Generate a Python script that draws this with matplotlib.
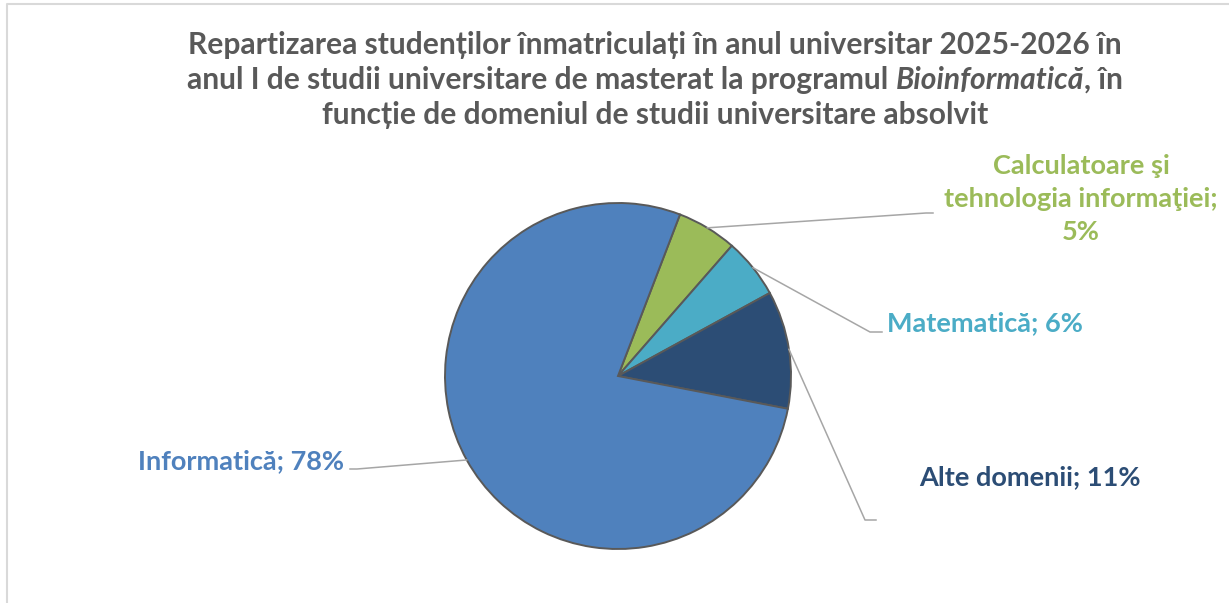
import numpy as np
import matplotlib
matplotlib.use("Agg")
import matplotlib.pyplot as plt

plt.rcParams['font.family'] = ['Lato', 'DejaVu Sans']

# slices in clockwise order, starting with the green one at the top
categories = ["Calculatoare şi\ntehnologia informaţiei", "Matematică", "Alte domenii", "Informatică"]
shares = [5.6, 5.6, 11.0, 77.8]
pct_labels = ["5%", "6%", "11%", "78%"]
label_sep = ["\n", " ", " ", " "]
colors = ["#9BBB59", "#4BACC6", "#2C4D75", "#4F81BD"]

title_line1 = "Repartizarea studenților înmatriculați în anul universitar 2025-2026 în"
title_line2 = ["anul I de studii universitare de masterat la programul", "Bioinformatică", ", în"]
title_line3 = "funcție de domeniul de studii universitare absolvit"

# layout (figure pixels, y from top)
W, H = 1229, 603
cx, cy, R = 618, 376, 173
label_xy = [(1081, 199), (985, 323), (1030, 477), (241, 461)]
elbow_xy = [(926, 213), (870, 332), (865, 520), (357, 469)]
end_xy = [(933, 213), (882, 332), (876, 520), (350, 469)]

fig = plt.figure(figsize=(W / 100, H / 100), dpi=100)
fig.patch.set_facecolor("white")

ax = fig.add_axes([(cx - R) / W, (H - cy - R) / H, 2 * R / W, 2 * R / H])
wedges, _ = ax.pie(shares, colors=colors, startangle=69, counterclock=False, radius=1,
                   wedgeprops=dict(edgecolor="#595959", linewidth=1.4))
ax.set_xlim(-1, 1)
ax.set_ylim(-1, 1)
ax.axis("off")

# overlay in pixel coordinates for title, labels, leader lines and the frame
ov = fig.add_axes([0, 0, 1, 1])
ov.set_xlim(0, W)
ov.set_ylim(H, 0)
ov.axis("off")
ov.patch.set_visible(False)

ov.plot([7, 7, W + 5], [H + 5, 4, 4], color="#D9D9D9", lw=1.5, clip_on=False)

r = fig.canvas.get_renderer()


def width(t):
    return t.get_window_extent(r).width


# title
tcol = "#595959"
cx_t = 655
t1 = ov.text(cx_t, 54, title_line1, ha="center", va="baseline", color=tcol,
             fontsize=18, fontweight="bold")
tsize = 18 * 937 / width(t1)
t1.set_fontsize(tsize)
ov.text(cx_t, 124, title_line3, ha="center", va="baseline", color=tcol,
        fontsize=tsize, fontweight="bold")

parts = []
for i, s in enumerate(title_line2):
    parts.append(ov.text(0, 89, s, ha="left", va="baseline", color=tcol, fontsize=tsize,
                         fontweight="bold", fontstyle="italic" if i == 1 else "normal"))
ta = ov.text(0, 0, "a a", fontsize=tsize, fontweight="bold")
tb = ov.text(0, 0, "aa", fontsize=tsize, fontweight="bold")
space = width(ta) - width(tb)
ta.remove()
tb.remove()
ws = [width(p) for p in parts]
x = cx_t - (sum(ws) + space) / 2
parts[0].set_x(x)
parts[1].set_x(x + ws[0] + space)
parts[2].set_x(x + ws[0] + space + ws[1])

# labels and leader lines
lsize = None
for i, w in enumerate(wedges):
    mid = np.radians((w.theta1 + w.theta2) / 2)
    px, py = cx + R * np.cos(mid), cy - R * np.sin(mid)
    ov.plot([px, elbow_xy[i][0], end_xy[i][0]], [py, elbow_xy[i][1], end_xy[i][1]],
            color="#A6A6A6", lw=1.1, clip_on=False)
    txt = categories[i] + ";" + label_sep[i] + pct_labels[i]
    t = ov.text(label_xy[i][0], label_xy[i][1], txt, ha="center", va="center",
                multialignment="center", color=colors[i], fontsize=16,
                fontweight="bold", linespacing=1.45)
    if lsize is None:
        probe = ov.text(0, 0, "Informatică; 78%", fontsize=16, fontweight="bold")
        lsize = 16 * 207 / width(probe)
        probe.remove()
    t.set_fontsize(lsize)

fig.savefig("out.png", dpi=100)
